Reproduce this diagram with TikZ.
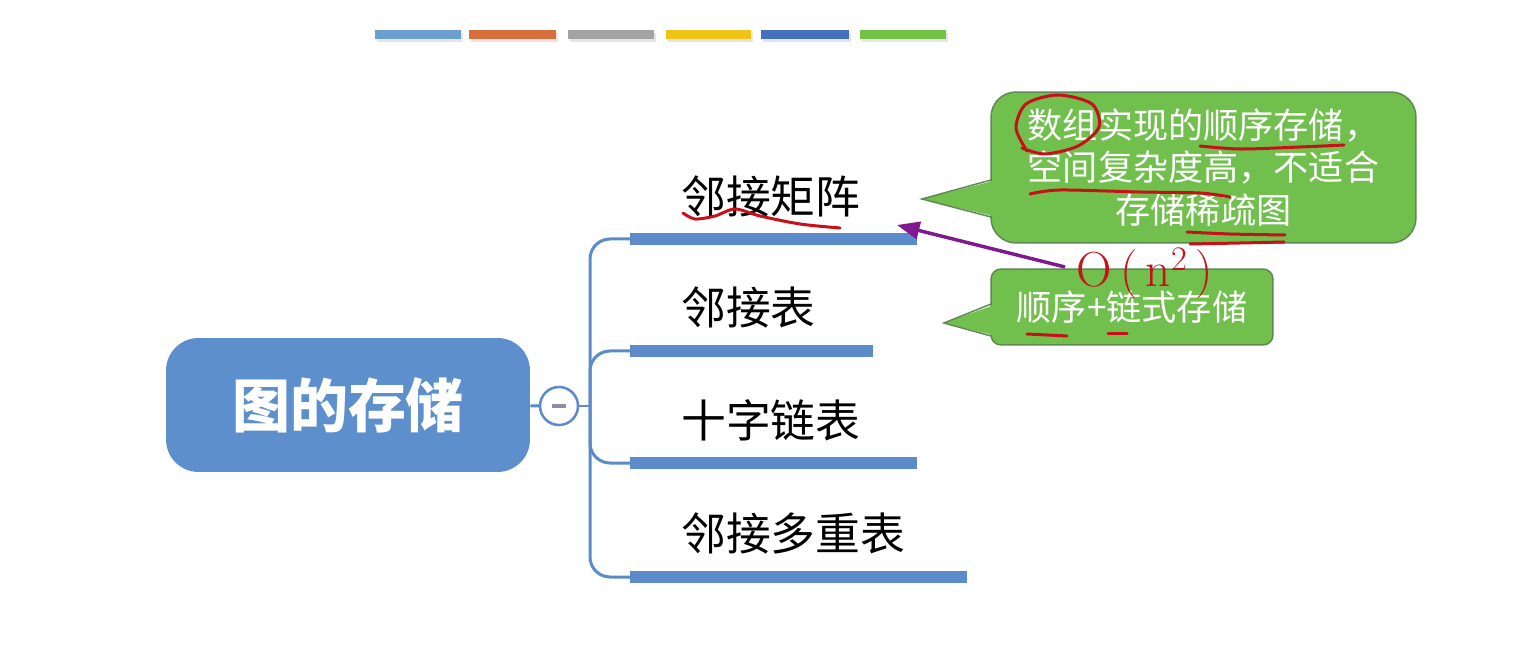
\documentclass[tikz,border=0pt]{standalone}
\usepackage{fontspec}
\newfontfamily\cjk{Noto Sans CJK SC}
\usepackage{xcolor}
\usepackage{tikz}
\usetikzlibrary{arrows.meta, positioning, shadows}

\definecolor{topicblue}{HTML}{5E8FCD}
\definecolor{barblue}{HTML}{5B8BCB}
\definecolor{notegreen}{HTML}{71BF4D}
\definecolor{noteedge}{HTML}{5E8A52}
\definecolor{penred}{HTML}{C8101A}
\definecolor{penpurple}{HTML}{80188F}
\definecolor{minusgray}{HTML}{8E8EA4}
\definecolor{swA}{HTML}{6A9FD0}
\definecolor{swB}{HTML}{D86E3A}
\definecolor{swC}{HTML}{A3A3A3}
\definecolor{swD}{HTML}{F0C414}
\definecolor{swE}{HTML}{4570BE}
\definecolor{swF}{HTML}{72C244}

\begin{document}
\begin{tikzpicture}[
    x=0.02cm, y=-0.02cm,
    topic/.style={
        rectangle,
        fill=topicblue,
        rounded corners=0.65cm,
        minimum width=7.28cm,
        minimum height=2.68cm,
        text=white,
        font=\cjk\bfseries\fontsize{33}{40}\selectfont
    },
    bar/.style={rectangle, fill=barblue, anchor=west, minimum height=0.24cm, inner sep=0},
    branch/.style={draw=barblue, line width=0.06cm, rounded corners=0.4cm},
    leaf/.style={anchor=west, inner sep=0, font=\cjk\fontsize{25.5}{30}\selectfont},
    note/.style={
        rectangle,
        fill=notegreen,
        draw=noteedge,
        line width=0.03cm,
        text=white,
        align=center,
        font=\cjk\fontsize{20}{24}\selectfont
    },
    hand/.style={draw=penred, line width=0.06cm, line cap=round, line join=round},
    swatch/.style={drop shadow={opacity=0.2, shadow xshift=0.04cm, shadow yshift=-0.06cm}}
]

\fill[white] (0,0) rectangle (1538,658);
\useasboundingbox (0,0) rectangle (1538,658);

% colour strip at the top
\foreach \x/\w/\c in {375/86/swA, 469/87/swB, 568/86/swC, 666/85/swD, 761/88/swE, 860/86/swF}
    \fill[\c, swatch] (\x,30) rectangle ++(\w,9);

% central topic
\node[topic] (topic) at (348,405) {图的存储};
\node[circle, draw=barblue, fill=white, line width=0.05cm, minimum size=0.76cm, inner sep=0] (fold) at (559,406) {};
\draw[minusgray, line width=0.07cm] (fold.center) ++(-7,0) -- ++(14,0);
\coordinate (trunk) at (590,406);

% branches
\node[bar, minimum width=5.74cm] (bar1) at (630,239) {};
\node[bar, minimum width=4.86cm] (bar2) at (630,351) {};
\node[bar, minimum width=5.74cm] (bar3) at (630,463) {};
\node[bar, minimum width=6.74cm] (bar4) at (630,577) {};

\node[leaf] (matrix) at (681,196) {邻接矩阵};
\node[leaf] (adjlist) at (681,307) {邻接表};
\node[leaf] (orthlist) at (681,420) {十字链表};
\node[leaf] (multilist) at (681,533) {邻接多重表};

\draw[branch] (topic) -- (fold);
\draw[branch] (fold) -- (trunk);
\draw[branch] (trunk) |- (bar1.west);
\draw[branch] (trunk) |- (bar2.west);
\draw[branch] (trunk) |- (bar3.west);
\draw[branch] (trunk) |- (bar4.west);

% callouts
\node[note, rounded corners=0.5cm, minimum width=8.5cm, minimum height=3.02cm] (note1) at (1203.5,167.5)
    {数组实现的顺序存储，\\空间复杂度高，不适合\\存储稀疏图};
\fill[notegreen] (922,199) -- (997,180) -- (997,217) -- cycle;
\draw[noteedge, line width=0.03cm] (991,180) -- (922,199) -- (991,217);

\node[note, rounded corners=0.2cm, minimum width=5.64cm, minimum height=1.52cm] (note2) at (1132,307)
    {顺序+链式存储};
\fill[notegreen] (944,323) -- (997,304) -- (997,336) -- cycle;
\draw[noteedge, line width=0.03cm] (991,304) -- (944,323) -- (991,336);

% pen marks
\draw[hand] plot[smooth] coordinates {(683,213) (695,219) (715,216) (735,209) (760,216) (800,224) (840,228)};
\draw[hand] plot[smooth] coordinates {(1027,151) (1016,128) (1026,104) (1058,95) (1092,104) (1099,127) (1078,146) (1045,154) (1022,148)};
\draw[hand] plot[smooth] coordinates {(1200,146) (1240,149) (1300,147) (1344,145)};
\draw[hand] plot[smooth] coordinates {(1030,194) (1060,190) (1140,192) (1200,193) (1230,197)};
\draw[hand] plot[smooth] coordinates {(1187,232) (1230,234) (1285,235)};
\draw[hand] plot[smooth] coordinates {(1190,244) (1240,243) (1284,242)};
\draw[hand] (1027,334) -- (1067,336);
\draw[hand] (1108,334) -- (1127,334);
\node[text=penred, inner sep=0, font=\fontsize{28}{28}\selectfont] (bigO) at (1145,273) {O\,(\,n\textsuperscript{2}\,)};

\coordinate (arrowfrom) at (1065,267);
\coordinate (arrowto) at (897,225);
\draw[penpurple, line width=0.07cm, -{Triangle[length=0.45cm, width=0.35cm]}] (arrowfrom) -- (arrowto);

\end{tikzpicture}
\end{document}
